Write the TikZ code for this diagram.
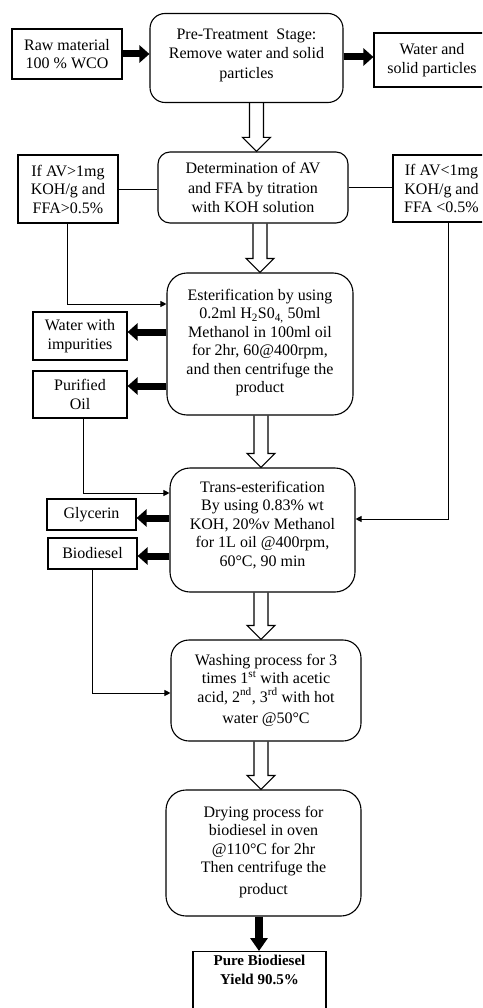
\documentclass[tikz,border=0pt]{standalone}
\usepackage{fontspec}
\setmainfont{Liberation Serif}
\usetikzlibrary{arrows.meta,calc}
\newcommand\hollowarr[3]{%
  \draw[hollow] let \p1=(#1.south), \p2=(#2.north) in
    (#3pt-7pt,\y1) -- (#3pt-7pt,\y2+14pt) -- (#3pt-14pt,\y2+14pt) -- (#3pt,\y2)
    -- (#3pt+14pt,\y2+14pt) -- (#3pt+7pt,\y2+14pt) -- (#3pt+7pt,\y1);}
\begin{document}
\begin{tikzpicture}[x=1pt,y=-1pt,
  every node/.style={font=\fontsize{16}{18.5}\selectfont, align=center, inner sep=0pt},
  sqbox/.style={draw, line width=1.1pt},
  rbox/.style={draw, line width=1.1pt, rounded corners=15pt},
  thinline/.style={line width=0.9pt},
  thinarr/.style={line width=0.9pt, -{Triangle[width=6pt,length=6pt]}},
  fatarr/.style={line width=7pt, -{Triangle[width=17pt,length=10pt]}},
  hollow/.style={line width=1.1pt, line join=miter}]
\clip (0,0) rectangle (482,1008);
\fill[white] (0,0) rectangle (482,1008);

% boxes
\node[sqbox, minimum width=110pt, minimum height=50pt] (raw) at (67,54) {Raw material\\100 \% WCO};
\node[rbox, minimum width=193pt, minimum height=89pt, font=\fontsize{16}{19.5}\selectfont] (pre) at (246.5,58) {Pre-Treatment~ Stage:\\Remove water and solid\\particles\\[-10.5pt]};
\node[sqbox, minimum width=116pt, minimum height=54pt] (water) at (432,60) {Water and\\solid particles};

\node[rbox, minimum width=190pt, minimum height=71pt, rounded corners=12pt, font=\fontsize{16}{19.5}\selectfont] (det) at (253,187.5) {Determination of AV\\and FFA by titration\\with KOH solution};
\node[sqbox, minimum width=100pt, minimum height=68pt] (ifgt) at (68,189) {If AV>1mg\\KOH/g and\\FFA>0.5\%};
\node[sqbox, minimum width=97pt, minimum height=67pt] (iflt) at (441.5,188.5) {If AV<1mg\\KOH/g and\\FFA <0.5\%};

\node[rbox, minimum width=186pt, minimum height=142pt, rounded corners=20pt] (ester) at (260,344) {Esterification by using\\0.2ml H\textsubscript{2}S0\textsubscript{4,} 50ml\\Methanol in 100ml oil\\for 2hr, 60@400rpm,\\and then centrifuge the\\product\\[-12.5pt]};
\node[sqbox, minimum width=94pt, minimum height=48pt] (wimp) at (80,336) {Water with\\impurities};
\node[sqbox, minimum width=94pt, minimum height=47pt] (poil) at (80,394.5) {Purified\\Oil};

\node[rbox, minimum width=185pt, minimum height=124pt, rounded corners=20pt] (trans) at (262.5,530) {Trans-esterification\\By using 0.83\% wt\\KOH, 20\%v Methanol\\for 1L oil @400rpm,\\60°C, 90 min\\[-5.5pt]};
\node[sqbox, minimum width=89pt, minimum height=31pt] (gly) at (91.5,514.5) {Glycerin};
\node[sqbox, minimum width=89pt, minimum height=31pt] (bio) at (92.5,553.5) {Biodiesel};

\node[rbox, minimum width=190pt, minimum height=101pt, rounded corners=18pt] (wash) at (266,690.5) {Washing process for 3\\times 1\textsuperscript{st} with acetic\\acid, 2\textsuperscript{nd}, 3\textsuperscript{rd} with hot\\[3pt]water @50°C\\[-15pt]};
\node[rbox, minimum width=195pt, minimum height=126pt, rounded corners=20pt] (dry) at (263.5,853) {Drying process for\\biodiesel in oven\\@110°C for 2hr\\Then centrifuge the\\[3pt]product\\[-12.5pt]};
\node[sqbox, minimum width=133pt, anchor=north, inner ysep=4pt, text depth=55pt, font=\bfseries\fontsize{15}{19}\selectfont] (pure) at (259.5,951) {Pure Biodiesel\\Yield 90.5\%};

% thick arrows
\draw[fatarr] (raw.east) -- (raw.east -| pre.west);
\draw[fatarr] ([yshift=3pt]water.west -| pre.east) -- ([yshift=3pt]water.west);
\draw[fatarr] ([yshift=4pt]wimp.east -| ester.west) -- ([yshift=4pt]wimp.east);
\draw[fatarr] ([yshift=8.5pt]poil.east -| ester.west) -- ([yshift=8.5pt]poil.east);
\draw[fatarr] ([yshift=-3.5pt]gly.east -| trans.west) -- ([yshift=-3.5pt]gly.east);
\draw[fatarr] ([yshift=-2.5pt]bio.east -| trans.west) -- ([yshift=-2.5pt]bio.east);
\draw[line width=8pt, -{Triangle[width=17pt,length=13pt]}] (dry.south -| 259,0) -- (pure.north -| 259,0);

% hollow arrows
\hollowarr{pre}{det}{256.5}
\hollowarr{det}{ester}{260}
\hollowarr{ester}{trans}{261}
\hollowarr{trans}{wash}{261}
\hollowarr{wash}{dry}{261}

% thin lines
\draw[thinline] (ifgt.east) -- (ifgt.east -| det.west);
\draw[thinline] (det.east) -- (det.east -| iflt.west);
\draw[thinarr] (ifgt.south -| 67,0) |- ([yshift=40pt]ester.west);
\draw[thinarr] ([xshift=6.5pt]iflt.south) |- ([yshift=11pt]trans.east);
\draw[thinarr] ([xshift=3pt]poil.south) |- ([yshift=37pt]trans.west);
\draw[thinarr] (bio.south) |- ([yshift=-2.5pt]wash.west);
\end{tikzpicture}
\end{document}
